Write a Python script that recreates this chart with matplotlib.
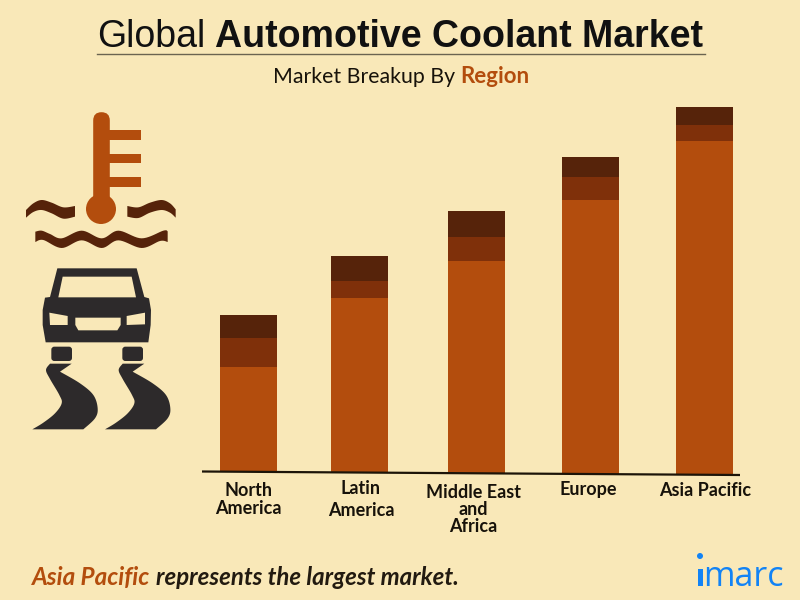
import numpy as np
import matplotlib
matplotlib.use("Agg")
import matplotlib.pyplot as plt
from matplotlib.patches import Polygon, Circle, FancyBboxPatch, Rectangle

# ---- data (bar segment heights) ----
regions = ["North\nAmerica", "Latin\nAmerica", "Middle East\nand\nAfrica", "Europe", "Asia Pacific"]
seg_bottom = [107, 176, 213, 274, 333]
seg_middle = [29, 17, 24, 23, 16]
seg_top = [23, 25, 26, 20, 18]

BG = "#F9E8B8"
C1, C2, C3 = "#B34D0D", "#7F300A", "#56230A"
DARK = "#2D2A2B"
BLUE = "#1283F5"

fig = plt.figure(figsize=(8, 6), dpi=100, facecolor=BG)
ax = fig.add_axes([0, 0, 1, 1], facecolor=BG)
ax.set_xlim(0, 800)
ax.set_ylim(-126, 474)
ax.axis("off")

ov = fig.add_axes([0, 0, 1, 1], facecolor="none")
ov.set_xlim(0, 800)
ov.set_ylim(600, 0)
ov.axis("off")

# ---- bars ----
xpos = [248.5, 359.5, 476.5, 590.5, 704.5]
b, m, t = map(np.array, (seg_bottom, seg_middle, seg_top))
bars = [ax.bar(xpos, b, 57, color=C1),
        ax.bar(xpos, m, 57, bottom=b, color=C2),
        ax.bar(xpos, t, 57, bottom=b + m, color=C3)]
clip = Polygon([(202, 0), (740, 0), (740, 475), (202, 471)], closed=True,
               transform=ov.transData, fill=False, edgecolor="none")
ov.add_patch(clip)
for r in bars[0]:
    r.set_clip_path(clip)

ov.plot([202, 740], [471.5, 475], color="#1c1408", lw=1.6, solid_capstyle="butt")

# ---- category labels ----
label_pos = [(248, 490, 18), (361, 489, 22), (473, 492, 17.5), (588, 490, 0), (705, 491, 0)]
for name, (x, y, gap) in zip(regions, label_pos):
    for i, line in enumerate(name.split("\n")):
        ov.text(x, y + i * gap, line, ha="center", va="center", fontsize=13,
                fontweight="bold", family="Lato", color="#17120a")

# ---- title block ----
ov.text(97, 47, "Global", fontsize=27, family="Liberation Sans", color="#111", va="baseline")
ov.text(215, 47, "Automotive Coolant Market", fontsize=27, fontweight="bold",
        family="Liberation Sans", color="#111", va="baseline")
ov.plot([97, 705], [54, 54], color="#6b6450", lw=1)
ov.text(273, 83, "Market Breakup By", fontsize=15.3, family="Lato", color="#17120a", va="baseline")
ov.text(460, 83, "Region", fontsize=16, fontweight="bold", family="Lato", color=C1, va="baseline")

# ---- footer ----
ov.text(32, 585, "Asia Pacific", fontsize=17.5, style="italic", fontweight="bold", family="Lato",
        color=C1, va="baseline")
ov.text(156, 585, "represents the largest market.", fontsize=17.3, style="italic", fontweight="bold",
        family="Lato", color="#221a10", va="baseline")

# ---- imarc logo ----
ov.add_patch(Circle((700, 556), 3, color=BLUE, lw=0))
ov.add_patch(Rectangle((698, 569), 4.5, 17, color=BLUE, lw=0))
ov.text(703, 586, "marc", fontsize=24.5, family="Open Sans", color=BLUE, va="baseline")


# ---- icons ----
def smooth(pts, n=10):
    """Catmull-Rom through an open list of points."""
    p = np.array(pts, float)
    p = np.vstack([p[0], p, p[-1]])
    out = []
    for i in range(1, len(p) - 2):
        for s in np.linspace(0, 1, n, endpoint=False):
            out.append(0.5 * (2 * p[i] + (p[i + 1] - p[i - 1]) * s
                              + (2 * p[i - 1] - 5 * p[i] + 4 * p[i + 1] - p[i + 2]) * s ** 2
                              + (3 * p[i] - p[i - 1] - 3 * p[i + 1] + p[i + 2]) * s ** 3))
    out.append(p[-2])
    return np.array(out)


def z1(pts):
    a = np.array(pts, float) / 3
    a[:, 1] += 90
    return a


def z2(pts):
    a = np.array(pts, float) / 3
    a[:, 1] += 255
    return a


def wave(top, bottom):
    poly = np.vstack([smooth(z1(top)), smooth(z1(bottom))[::-1]])
    ov.add_patch(Polygon(poly, closed=True, color=C3, lw=0))


# thermometer
ov.add_patch(FancyBboxPatch((101.5, 120.5), 0, 85, boxstyle="round,pad=8.3,rounding_size=8.3",
                            color=C1, lw=0))
ov.add_patch(Circle((101, 209), 15, color=C1, lw=0))
for y0 in (130, 153.5, 177):
    ov.add_patch(Rectangle((108, y0), 33, 9.5, color=C1, lw=0))

# waves
wave([(78, 360), (100, 340), (125, 330), (155, 338), (190, 352), (225, 348)],
     [(78, 383), (100, 366), (125, 360), (155, 370), (190, 386), (225, 380)])
wave([(382, 348), (415, 352), (450, 338), (485, 330), (510, 340), (527, 358)],
     [(382, 380), (415, 384), (450, 368), (485, 360), (510, 368), (527, 383)])
wave([(106, 425), (125, 422), (150, 432), (185, 445), (245, 422), (305, 445), (355, 422), (425, 445), (490, 422), (503, 424)],
     [(106, 456), (130, 450), (185, 474), (245, 451), (305, 474), (355, 451), (425, 474), (480, 453), (503, 456)])

# car
body = [(172, 40), (410, 40), (433, 126), (447, 130), (453, 165), (452, 210), (445, 262),
        (137, 262), (128, 210), (128, 165), (135, 128), (150, 126)]
ov.add_patch(Polygon(z2(body), closed=True, color=DARK, lw=0))
holes = [[(188, 65), (395, 65), (408, 127), (175, 127)],
         [(148, 173), (203, 183), (203, 210), (150, 210)],
         [(435, 173), (380, 183), (380, 210), (435, 208)],
         [(226, 188), (362, 188), (362, 210), (352, 226), (235, 226), (226, 210)]]
for h in holes:
    ov.add_patch(Polygon(z2(h), closed=True, color=BG, lw=0))
for x0 in (154, 367):
    w = z2([(x0, 275), (x0 + 62, 318)])
    ov.add_patch(FancyBboxPatch((w[0, 0] + 2, w[0, 1] + 2), w[1, 0] - w[0, 0] - 4, w[1, 1] - w[0, 1] - 4,
                                boxstyle="round,pad=2,rounding_size=3", color=DARK, lw=0))

# road tracks
left_edge = [(150, 326), (138, 345), (150, 372), (178, 420), (185, 445), (165, 475), (130, 503), (97, 523)]
right_edge = [(250, 523), (285, 490), (293, 460), (280, 420), (240, 385), (180, 350)]
for dx in (0, 218):
    pts = np.vstack([[(215 + dx, 326)],
                     smooth(np.array(left_edge) + [dx, 0]),
                     smooth(np.array(right_edge) + [dx, 0])])
    ov.add_patch(Polygon(z2(pts), closed=True, color=DARK, lw=0))

fig.savefig("out.png", dpi=100, facecolor=BG)
